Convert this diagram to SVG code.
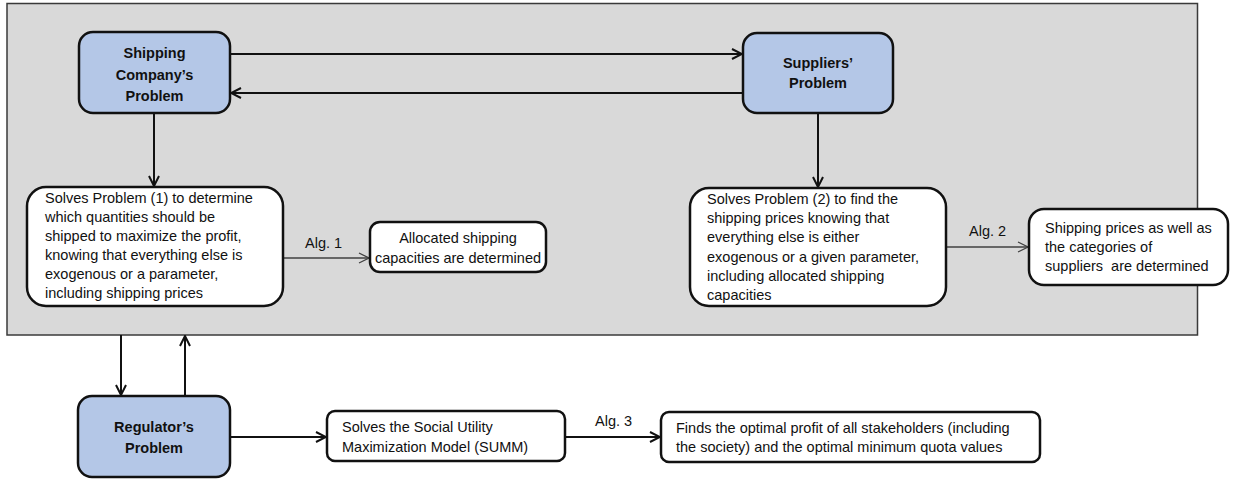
<svg xmlns="http://www.w3.org/2000/svg" width="1254" height="479" viewBox="0 0 1254 479">
<style>
.bg{fill:#ffffff}
.panel{fill:#d9d9d9;stroke:#3a3a3a;stroke-width:1.5}
.prob{fill:#b4c7e7;stroke:#111;stroke-width:2.5}
.step{fill:#ffffff;stroke:#111;stroke-width:2.5}
.bold{font-family:"Liberation Sans",Arial,sans-serif;font-weight:bold;font-size:14.5px;fill:#111;text-anchor:middle}
.txt{font-family:"Liberation Sans",Arial,sans-serif;font-size:14.5px;fill:#111}
.mid{text-anchor:middle}
.conn{fill:none;stroke:#111;stroke-width:2}
.thin{fill:none;stroke:#404040;stroke-width:1.3}
</style>
<defs>
<marker id="ah" viewBox="0 0 12 12" refX="11" refY="6" markerWidth="12" markerHeight="12" markerUnits="userSpaceOnUse" orient="auto">
<path d="M1,1 L11,6 L1,11" fill="none" stroke="#111" stroke-width="2"/>
</marker>
<marker id="aht" viewBox="0 0 12 12" refX="11" refY="6" markerWidth="12" markerHeight="12" markerUnits="userSpaceOnUse" orient="auto">
<path d="M1,1 L11,6 L1,11" fill="none" stroke="#404040" stroke-width="1.3"/>
</marker>
</defs>
<rect class="bg" x="0" y="0" width="1254" height="479"/>
<rect class="panel" x="7" y="3.5" width="1190.5" height="331.5"/>

<g id="connectors">
<path class="conn" d="M230,54 H742" marker-end="url(#ah)"/>
<path class="conn" d="M743,93 H231" marker-end="url(#ah)"/>
<path class="conn" d="M154,113 V186" marker-end="url(#ah)"/>
<path class="conn" d="M818,113 V187" marker-end="url(#ah)"/>
<path class="thin" d="M283,258 H369" marker-end="url(#aht)"/>
<path class="thin" d="M946,247 H1028" marker-end="url(#aht)"/>
<path class="conn" d="M121,335 V395" marker-end="url(#ah)"/>
<path class="conn" d="M185,396 V336" marker-end="url(#ah)"/>
<path class="conn" d="M230,437 H326" marker-end="url(#ah)"/>
<path class="conn" d="M565,437 H660" marker-end="url(#ah)"/>
<text class="txt" x="305" y="248">Alg. 1</text>
<text class="txt" x="969" y="236">Alg. 2</text>
<text class="txt" x="595" y="426">Alg. 3</text>
</g>

<g id="shipping">
<rect class="prob" x="79" y="32" width="151" height="81" rx="14"/>
<text class="bold" x="154.5" y="58">Shipping</text>
<text class="bold" x="154.5" y="80">Company’s</text>
<text class="bold" x="154.5" y="101">Problem</text>
</g>

<g id="suppliers">
<rect class="prob" x="743" y="33" width="150" height="80" rx="14"/>
<text class="bold" x="818" y="68">Suppliers’</text>
<text class="bold" x="818" y="88">Problem</text>
</g>

<g id="solve1">
<rect class="step" x="27" y="187" width="256" height="119" rx="19"/>
<text class="txt" x="45" y="203">Solves Problem (1) to determine</text>
<text class="txt" x="45" y="222">which quantities should be</text>
<text class="txt" x="45" y="241">shipped to maximize the profit,</text>
<text class="txt" x="45" y="260">knowing that everything else is</text>
<text class="txt" x="45" y="279">exogenous or a parameter,</text>
<text class="txt" x="45" y="298">including shipping prices</text>
</g>

<g id="allocated">
<rect class="step" x="370" y="222" width="176" height="50" rx="10"/>
<text class="txt mid" x="458" y="243">Allocated shipping</text>
<text class="txt mid" x="458" y="263">capacities are determined</text>
</g>

<g id="solve2">
<rect class="step" x="690" y="188" width="256" height="118" rx="19"/>
<text class="txt" x="707" y="204">Solves Problem (2) to find the</text>
<text class="txt" x="707" y="223">shipping prices knowing that</text>
<text class="txt" x="707" y="242">everything else is either</text>
<text class="txt" x="707" y="262">exogenous or a given parameter,</text>
<text class="txt" x="707" y="281">including allocated shipping</text>
<text class="txt" x="707" y="300">capacities</text>
</g>

<g id="prices">
<rect class="step" x="1029" y="209" width="199" height="76" rx="15"/>
<text class="txt" x="1045" y="233">Shipping prices as well as</text>
<text class="txt" x="1045" y="252">the categories of</text>
<text class="txt" x="1045" y="271" style="white-space:pre">suppliers  are determined</text>
</g>

<g id="regulator">
<rect class="prob" x="78" y="396" width="152" height="81" rx="14"/>
<text class="bold" x="154" y="432">Regulator’s</text>
<text class="bold" x="154" y="453">Problem</text>
</g>

<g id="summ">
<rect class="step" x="327" y="411" width="238" height="50" rx="8"/>
<text class="txt" x="342" y="432">Solves the Social Utility</text>
<text class="txt" x="342" y="452">Maximization Model (SUMM)</text>
</g>

<g id="finds">
<rect class="step" x="661" y="412" width="379" height="50" rx="8"/>
<text class="txt" x="676" y="433">Finds the optimal profit of all stakeholders (including</text>
<text class="txt" x="676" y="452">the society) and the optimal minimum quota values</text>
</g>
</svg>
